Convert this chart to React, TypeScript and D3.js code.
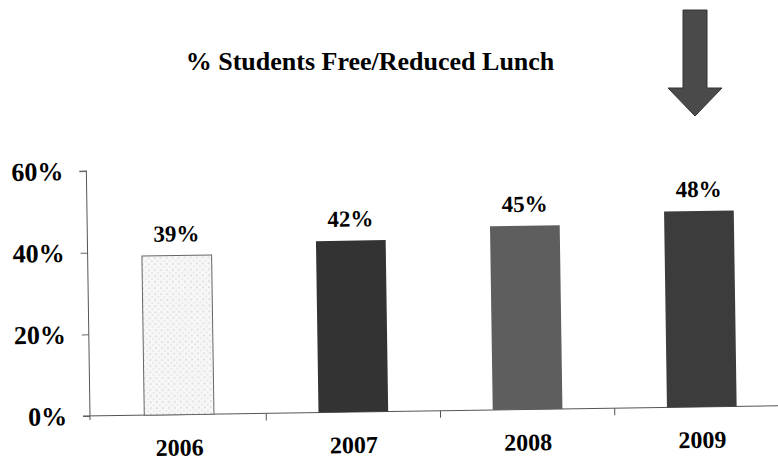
import { useEffect, useRef } from 'react';
import * as d3 from 'd3';

const years = ['2006', '2007', '2008', '2009'];
const shares = [0.39, 0.42, 0.45, 0.48];
const yTicks = [0, 0.2, 0.4, 0.6];
const title = '% Students Free/Reduced Lunch';

const W = 778;
const H = 461;
const FONT = '"Liberation Serif", "Times New Roman", serif';

export default function App() {
  const svgRef = useRef<SVGSVGElement>(null);

  useEffect(() => {
    if (!svgRef.current) return;
    const root = d3.select(svgRef.current);
    root.selectAll('*').remove();

    const x0 = 90, y0 = 416;
    const x = d3.scaleBand<string>().domain(years).range([x0 + 2, 789]).paddingInner(0.6).paddingOuter(0.3);
    const y = d3.scaleLinear().domain([0, 0.6]).range([y0, 171]);
    const fills = ['url(#dots)', '#333', '#5e5e5e', '#3c3c3c'];

    const defs = root.append('defs');
    const pat = defs.append('pattern').attr('id', 'dots').attr('width', 6).attr('height', 6)
      .attr('patternUnits', 'userSpaceOnUse');
    pat.append('rect').attr('width', 6).attr('height', 6).attr('fill', '#f7f7f7');
    pat.append('circle').attr('cx', 1).attr('cy', 1).attr('r', 0.6).attr('fill', '#9a9a9a');
    pat.append('circle').attr('cx', 4).attr('cy', 4).attr('r', 0.5).attr('fill', '#b5b5b5');

    // title
    root.append('text')
      .attr('x', 370).attr('y', 70)
      .attr('text-anchor', 'middle')
      .style('font-family', FONT).style('font-weight', 'bold').style('font-size', '26px')
      .text(title);

    // arrow pointing at last bar
    const ax = 695;
    const arrow = d3.path();
    arrow.moveTo(ax - 12, 10);
    arrow.lineTo(ax + 12, 10);
    arrow.lineTo(ax + 12, 88);
    arrow.lineTo(ax + 27, 88);
    arrow.lineTo(ax, 116);
    arrow.lineTo(ax - 27, 88);
    arrow.lineTo(ax - 12, 88);
    arrow.closePath();
    root.append('path').attr('d', arrow.toString()).attr('fill', '#4a4a4a').attr('stroke', '#333');

    // scanned page is slightly tilted
    const g = root.append('g').attr('transform', `rotate(-0.85, ${x0}, ${y0})`);

    const yAxis = g.append('g').attr('transform', `translate(${x0},0)`)
      .call(d3.axisLeft(y).tickValues(yTicks).tickSize(7).tickFormat(d3.format('.0%')));
    yAxis.select('.domain').attr('stroke', '#555').attr('d', `M-7,${y(0.6)}H0V${y0 + 4}`);
    yAxis.selectAll('.tick line').attr('stroke', '#666');
    yAxis.selectAll('.tick text')
      .attr('x', -23)
      .style('font-family', FONT).style('font-weight', 'bold').style('font-size', '26px').attr('fill', '#000');

    // baseline with category separators
    g.append('line').attr('x1', x0 - 7).attr('x2', 789).attr('y1', y0).attr('y2', y0).attr('stroke', '#555');
    const seps = years.slice(1).map((yr) => (x(yr) as number) - x.step() * x.paddingInner() / 2);
    g.selectAll('line.sep').data(seps).enter().append('line').attr('class', 'sep')
      .attr('x1', (d) => d).attr('x2', (d) => d).attr('y1', y0).attr('y2', y0 + 7).attr('stroke', '#555');

    g.selectAll('rect.bar').data(shares).enter().append('rect').attr('class', 'bar')
      .attr('x', (_, i) => x(years[i]) as number)
      .attr('width', x.bandwidth())
      .attr('y', (d) => y(d))
      .attr('height', (d) => y0 - y(d))
      .attr('fill', (_, i) => fills[i])
      .attr('stroke', (_, i) => (i === 0 ? '#666' : 'none'));

    g.selectAll('text.val').data(shares).enter().append('text').attr('class', 'val')
      .attr('x', (_, i) => (x(years[i]) as number) + x.bandwidth() / 2)
      .attr('y', (d) => y(d) - 14)
      .attr('text-anchor', 'middle')
      .style('font-family', FONT).style('font-weight', 'bold').style('font-size', '23px')
      .text((d) => d3.format('.0%')(d));

    g.selectAll('text.cat').data(years).enter().append('text').attr('class', 'cat')
      .attr('x', (d) => (x(d) as number) + x.bandwidth() / 2)
      .attr('y', y0 + 41)
      .attr('text-anchor', 'middle')
      .style('font-family', FONT).style('font-weight', 'bold').style('font-size', '24px')
      .text((d) => d);
  }, []);

  return (
    <div style={{ position: 'fixed', left: 0, top: 0, width: W, height: H, overflow: 'hidden', background: '#fff' }}>
      <svg ref={svgRef} width={W} height={H} style={{ display: 'block' }} />
    </div>
  );
}
